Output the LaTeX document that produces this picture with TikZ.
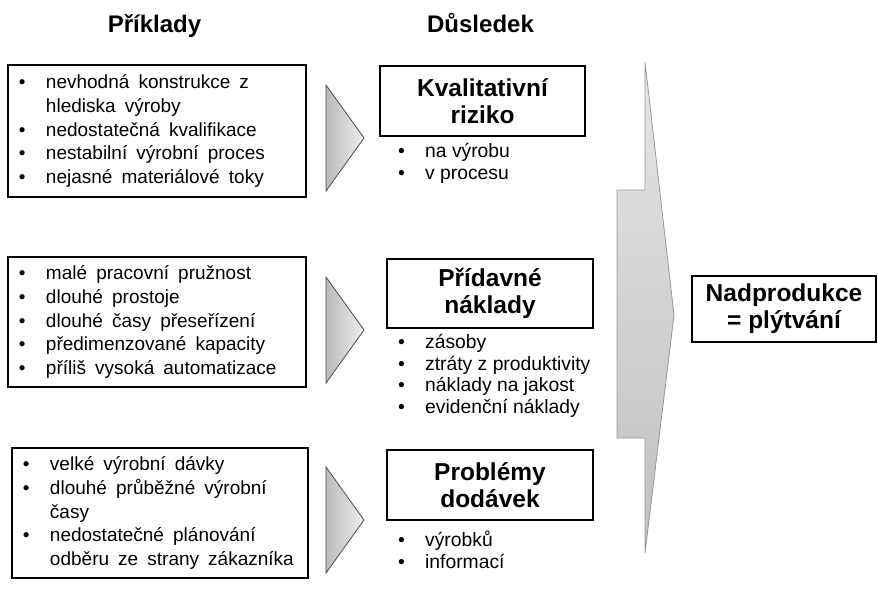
\documentclass[tikz,border=0pt]{standalone}
\usepackage{fontspec}
\setmainfont{Liberation Sans}
\usetikzlibrary{positioning}

\newcommand{\bod}{\makebox[27pt][l]{\textbullet}}
\newcommand{\odsaz}{\hspace*{27pt}}
\newcommand{\mezery}{\spaceskip=9.1pt\relax}

\begin{document}
\begin{tikzpicture}[x=1pt, y=-1pt,
        nadpis/.style={font=\fontsize{24}{28}\selectfont\bfseries, inner sep=0},
        priklad/.style={draw, line width=1.2pt, align=left, inner xsep=11pt,
            font=\fontsize{19}{23.7}\selectfont, execute at begin node=\mezery},
        dusledek/.style={draw, line width=1.2pt, align=center, inner sep=0,
            font=\fontsize{24.5}{27}\selectfont\bfseries},
        seznam/.style={align=left, inner sep=0, anchor=north west,
            font=\fontsize{19.3}{21.7}\selectfont},
        sipka/.style={draw=gray!60!black, line width=0.8pt, left color=gray!55, right color=gray!12},
        velka/.style={draw=gray!80, line width=0.8pt, top color=gray!20, bottom color=gray!50}]
    \useasboundingbox (0,0) rectangle (878,592);

    % nadpisy
    \node[nadpis, anchor=base] (h1) at (154.5,32) {Příklady};
    \node[nadpis, anchor=base] (h2) at (480.5,32) {Důsledek};

    % priklady
    \node[priklad, text width=276pt, minimum height=132pt] (p1) at (157,131) {
        \bod nevhodná konstrukce z\\
        \odsaz hlediska výroby\\
        \bod nedostatečná kvalifikace\\
        \bod nestabilní výrobní proces\\
        \bod nejasné materiálové toky};
    \node[priklad, text width=276pt, minimum height=130pt] (p2) at (157,322) {
        \bod malé pracovní pružnost\\
        \bod dlouhé prostoje\\
        \bod dlouhé časy přeseřízení\\
        \bod předimenzované kapacity\\
        \bod příliš vysoká automatizace};
    \node[priklad, text width=274pt, minimum height=130pt] (p3) at (160,513) {
        \bod velké výrobní dávky\\
        \bod dlouhé průběžné výrobní\\
        \odsaz časy\\
        \bod nedostatečné plánování\\
        \odsaz odběru ze strany zákazníka};

    % male sipky
    \foreach \y in {138,330,520}
        \draw[sipka] (326,\y-53) -- (364,\y) -- (326,\y+53) -- cycle;

    % dusledky
    \node[dusledek, minimum width=205pt, minimum height=70pt] (d1) at (482.5,101) {Kvalitativní\\riziko};
    \node[seznam] (s1) at (398,143) {\bod na výrobu\\ \bod v procesu};

    \node[dusledek, minimum width=206pt, minimum height=69pt] (d2) at (490,293.5) {Přídavné\\náklady};
    \node[seznam] (s2) at (398,334) {
        \bod zásoby\\
        \bod ztráty z produktivity\\
        \bod náklady na jakost\\
        \bod evidenční náklady};

    \node[dusledek, minimum width=206pt, minimum height=70pt] (d3) at (490,485) {Problémy\\dodávek};
    \node[seznam] (s3) at (398,531) {\bod výrobků\\ \bod informací};

    % velka sipka
    \draw[velka] (645,62) -- (674,315) -- (645,553) -- (645,438) -- (617,438)
        -- (617,190) -- (645,190) -- cycle;

    \node[dusledek, minimum width=184pt, minimum height=66pt] (n) at (784,309) {Nadprodukce\\= plýtvání};
\end{tikzpicture}
\end{document}
